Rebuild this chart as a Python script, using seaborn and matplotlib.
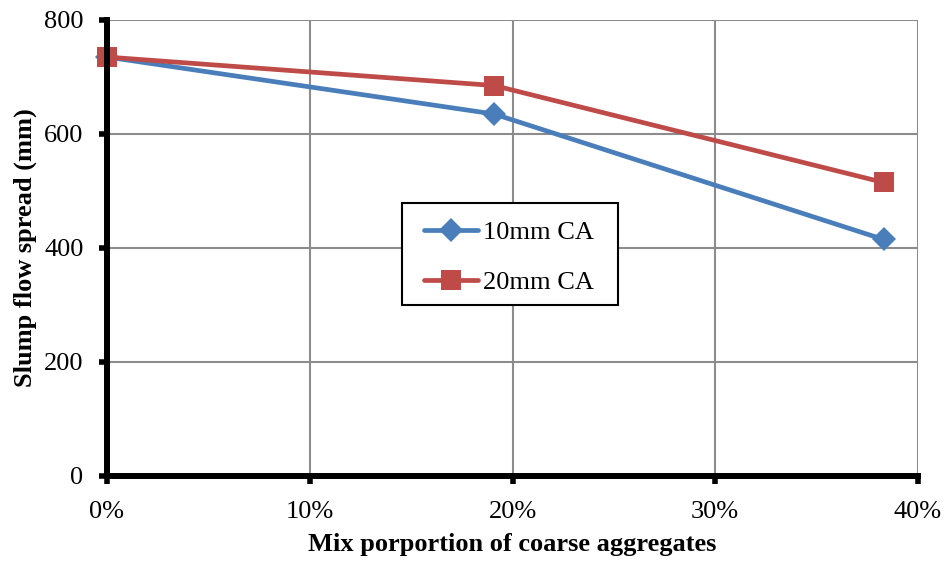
import matplotlib
matplotlib.use("Agg")
import matplotlib.pyplot as plt
import seaborn as sns
import pandas as pd
from matplotlib.patches import Rectangle
from matplotlib.ticker import FuncFormatter, MultipleLocator

# Coarse aggregate proportion (fraction) and slump flow spread (mm)
proportion = [0.0, 0.191, 0.383]
spread_10mm = [735, 635, 415]
spread_20mm = [735, 685, 515]
series_names = ["10mm CA", "20mm CA"]

df = pd.DataFrame({
    "proportion": proportion * 2,
    "spread": spread_10mm + spread_20mm,
    "series": [series_names[0]] * 3 + [series_names[1]] * 3,
})

sns.set_theme(style="white")
plt.rcParams["font.family"] = ["Liberation Serif", "DejaVu Serif"]
plt.rcParams.update({
    "text.color": "black",
    "axes.labelcolor": "black",
    "xtick.color": "black",
    "ytick.color": "black",
})

W, H = 945, 567
fig = plt.figure(figsize=(W / 100, H / 100), dpi=100)
ax_l, ax_r, ax_t, ax_b = 107, 918, 20, 476
ax = fig.add_axes([ax_l / W, (H - ax_b) / H, (ax_r - ax_l) / W, (ax_b - ax_t) / H])


def to_axes(px, py):
    """Figure pixel position (from top-left) to axes fraction."""
    return (px - ax_l) / (ax_r - ax_l), (ax_b - py) / (ax_b - ax_t)


palette = {series_names[0]: "#4A7EBB", series_names[1]: "#BE4B48"}
markers = {series_names[0]: "D", series_names[1]: "s"}
sizes = {series_names[0]: 12, series_names[1]: 14.5}

for name in series_names:
    sub = df[df["series"] == name]
    sns.lineplot(data=sub, x="proportion", y="spread", ax=ax, color=palette[name],
                 marker=markers[name], markersize=sizes[name], markeredgewidth=0,
                 linewidth=3.4, label=name, zorder=3, clip_on=False)

ax.set_xlim(0, 0.4)
ax.set_ylim(0, 800)
ax.xaxis.set_major_locator(MultipleLocator(0.1))
ax.yaxis.set_major_locator(MultipleLocator(200))
ax.xaxis.set_major_formatter(FuncFormatter(lambda v, p: f"{v * 100:.0f}%"))

ax.grid(True, color="#8c8c8c", linewidth=1.5)
ax.set_axisbelow(True)

for side in ["top", "right"]:
    ax.spines[side].set_visible(False)
for side in ["left", "bottom"]:
    ax.spines[side].set_color("black")
    ax.spines[side].set_linewidth(4.3)
    ax.spines[side].set_zorder(4)

ax.tick_params(axis="both", which="major", direction="out", length=6, width=4,
               color="black", labelsize=19, labelcolor="black", bottom=True, left=True)
ax.tick_params(axis="x", pad=12)
ax.tick_params(axis="y", pad=11)

ax.set_xlabel("Mix porportion of coarse aggregates", fontsize=19, fontweight="bold", labelpad=7)
ax.set_ylabel("Slump flow spread (mm)", fontsize=19, fontweight="bold", labelpad=5)

# Legend box drawn as its own rectangle, legend entries placed inside it
bx0, by0 = to_axes(402, 305)
bx1, by1 = to_axes(618, 203)
ax.add_patch(Rectangle((bx0, by0), bx1 - bx0, by1 - by0, transform=ax.transAxes,
                       facecolor="white", edgecolor="black", linewidth=1.5,
                       zorder=4.5, clip_on=False))

leg = ax.legend(loc="upper left", bbox_to_anchor=to_axes(424, 221),
                frameon=False, fontsize=19, handlelength=2.05,
                borderpad=0, labelspacing=1.0, handletextpad=0.2, borderaxespad=0)
leg.set_zorder(5)

fig.savefig("out.png", dpi=100, facecolor="white")
